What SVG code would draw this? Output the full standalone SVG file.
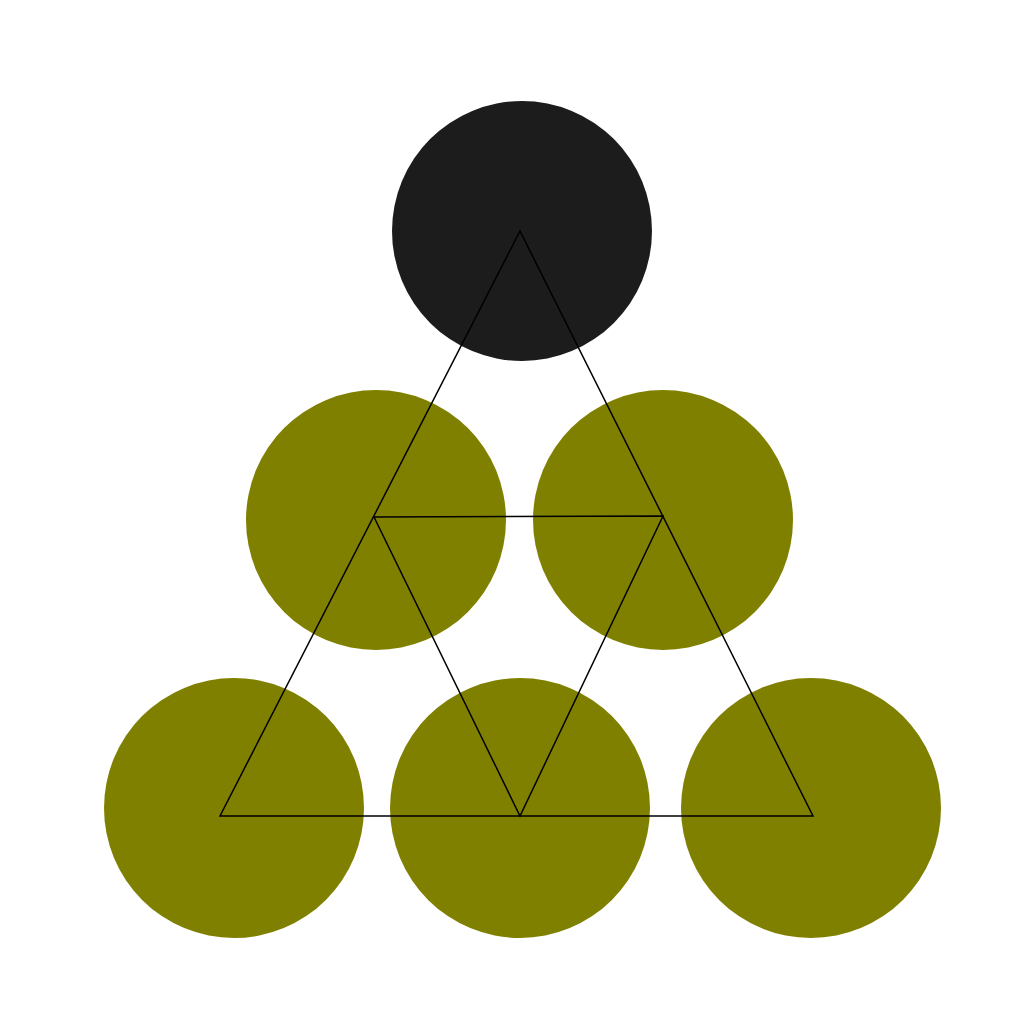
<svg xmlns="http://www.w3.org/2000/svg" width="1024" height="1024" viewBox="0 0 1024 1024">
<style>
.olive{fill:#808000}
.dark{fill:#1c1c1c}
.edge{stroke:#000;stroke-width:1.5;fill:none}
</style>
<rect width="1024" height="1024" fill="#fff"/>
<g id="n-top"><circle class="dark" cx="522" cy="231" r="130"/></g>
<g id="n-midleft"><circle class="olive" cx="376" cy="520" r="130"/></g>
<g id="n-midright"><circle class="olive" cx="663" cy="520" r="130"/></g>
<g id="n-botleft"><circle class="olive" cx="234" cy="808" r="130"/></g>
<g id="n-botmid"><circle class="olive" cx="520" cy="808" r="130"/></g>
<g id="n-botright"><circle class="olive" cx="811" cy="808" r="130"/></g>
<g id="connectors">
<polygon class="edge" points="520,231 220,816 813,816"/>
<polygon class="edge" points="374,517 663,516 520,816"/>
</g>
</svg>
